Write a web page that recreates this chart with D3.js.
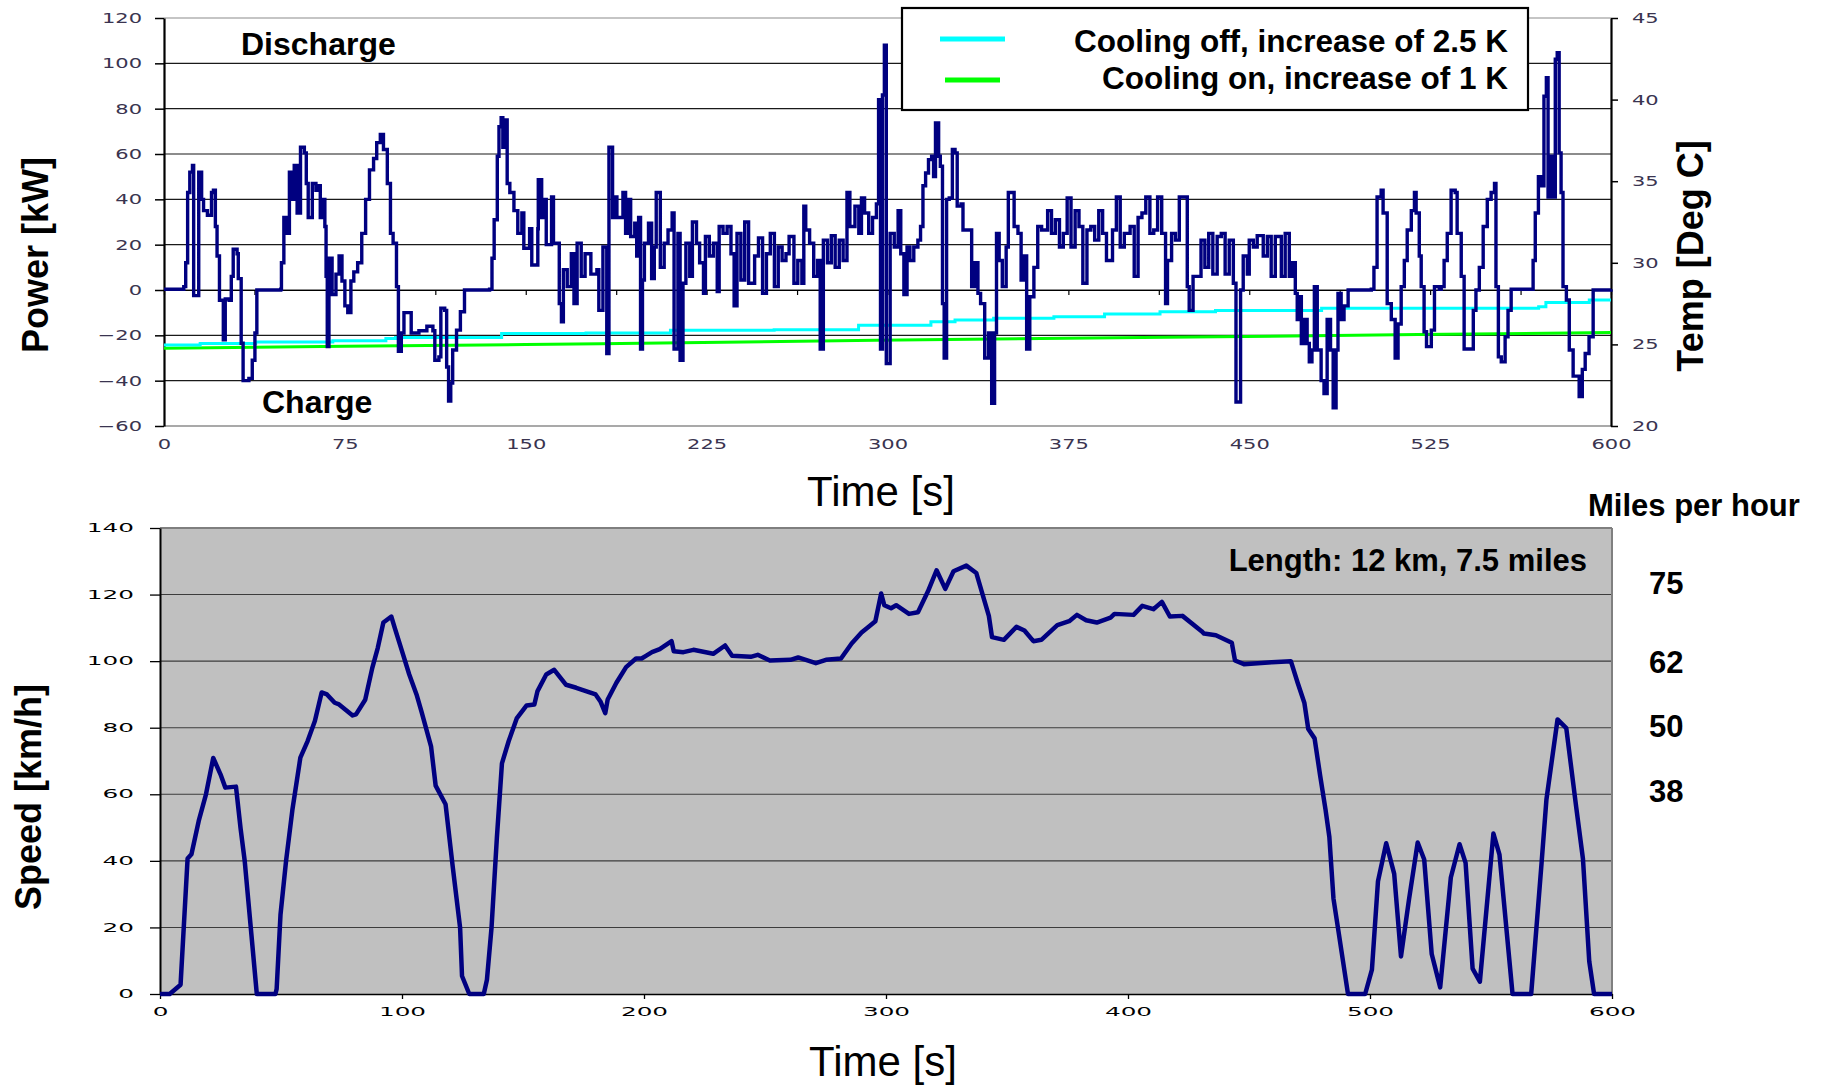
<!DOCTYPE html>
<html><head><meta charset="utf-8">
<script src="https://cdn.jsdelivr.net/npm/d3@7"></script>
<style>
body{margin:0;background:#fff;}
svg text{font-family:"Liberation Sans",Arial,Helvetica,sans-serif;}
</style></head><body>
<svg id="c" width="1825" height="1086"></svg>
<script>
// ---------- data ----------
const powerPoints = [[0,0.3],[8.2,1.5],[9,12],[9.8,43],[10.7,52],[11.8,55],[12.3,-2.5],[14,-2.5],[14.4,52],[15.6,40],[16.4,35],[18,33],[19.7,43],[20.5,44],[21.3,28],[22,15],[23,-4.5],[24.6,-22],[25.4,-4],[27,-4.5],[27.9,6],[28.7,18],[30.3,16],[30.8,5],[32,-23.5],[32.8,-40],[35.2,-39],[36.6,-31],[37.7,-19],[38.5,0],[48.4,0.3],[48.7,12],[49.7,32],[50.8,25],[52,52],[53.3,40],[54,55],[55.2,34],[56.6,63],[58.2,60.5],[59,47],[59.8,32],[61.5,47],[63,44],[64,46],[64.8,32],[66,40],[66.7,28],[67.2,6],[67.7,-25],[68.4,14],[69.7,-2],[71.3,7],[72.6,15],[73.8,4],[75,-7],[76.2,-10],[77.5,4],[78.7,8],[80.3,12],[82,25],[83.6,40],[85.2,53],[86.9,58],[88.2,65],[89.7,68.6],[91,62],[92.6,47],[93.9,25],[95,20.6],[96.4,1.5],[97.2,-27],[98.4,-19],[99.5,-10],[101.6,-10],[102.5,-19],[105.7,-18],[109,-16],[111.5,-18],[112.3,-31],[114,-29.5],[114.8,-8],[116.4,-9],[117.2,-34],[118,-49],[118.9,-41],[119.7,-26.5],[121.3,-17.7],[122.9,-9.6],[124.6,0],[135,0.3],[136,14],[136.9,31],[138.2,59],[138.9,72],[139.8,76],[140.5,63],[141.5,75],[142.3,47],[143.4,43],[145.1,35],[146.7,25],[148.4,34],[149.2,18.4],[151.6,27],[152.5,11],[155,27],[155.2,48.7],[156.6,32],[157.4,40],[158.5,20],[160.7,41],[161.5,20.6],[163.9,-6],[164.8,-14],[165.6,9],[167.2,1.5],[168.9,16],[170,-6],[171.3,20.6],[173,6],[174.6,16],[177,7],[179.5,9],[180.3,-9],[182,19],[183.6,-28],[184.5,63],[186,32],[187.3,41],[187.8,32],[190.3,43],[191.4,25],[192.7,40],[193.5,23.6],[195.2,29.5],[196,15],[196.8,32],[197.6,-26],[198.4,4.4],[199.2,20.6],[200.9,29.5],[202.2,5],[203.3,19],[204.1,43],[205.8,10],[207.4,20.6],[209,26.5],[210.7,34],[211.5,-26],[213.1,25],[214,-31],[215.2,3],[216.4,20.6],[218,6],[219.1,30],[220.8,20.6],[222.1,12],[223.7,-1.5],[224.5,23.6],[226.1,15],[227.8,20.6],[229.4,-0.7],[230.2,28],[231.8,25],[233.5,28],[235.1,16],[236.4,-7],[237.6,25],[239.2,4.4],[240.8,30],[242.4,3],[244.9,15],[246.5,23],[248.2,-1.5],[249.8,16],[251.4,25],[253.1,1.5],[254.7,19],[256.3,13],[257.9,16],[259.2,23.6],[261.2,3],[262.8,13],[264.5,3],[265.3,37],[266.1,26.5],[267.7,20.6],[269.4,6],[271,13],[272.1,-26],[273.4,22],[275.1,12],[276.7,24],[278.3,10],[280,22],[281.6,13],[283.2,43],[284.4,28],[286.5,37],[288.1,25],[289.2,40.6],[290.5,34],[292.2,25],[293.8,32],[295.4,38],[296.3,84],[297.1,-26],[297.9,86],[298.7,108],[299.5,-32.5],[300.6,-32.5],[301.1,25],[302.8,19],[304.4,35],[305.5,16],[306.8,-2],[308.1,19],[309.3,13],[310.9,19],[312.6,22],[313.7,28],[314.7,46],[315.8,51.6],[317,57.5],[318.3,59],[319.1,50],[319.9,73.7],[321.2,59],[321.9,54.6],[322.8,-6],[323.5,-30],[324.5,40],[325.6,40.6],[326.9,62],[328,60.5],[328.9,37],[330.5,38],[331.3,26.5],[333.8,26.5],[334.9,1.5],[336.2,12],[337.5,-1.5],[338.6,-6],[340.3,-30],[341.9,-19],[343.2,-50],[344.4,-19],[345.2,25],[346.3,13],[347.6,1.5],[349.2,19],[350.1,43],[351.7,43],[352.5,28],[354.1,25],[355.4,4.4],[356.6,15],[357.7,-26],[359,-3],[360.7,10],[362.3,28],[363.9,26.5],[366.4,35],[368,25],[369.6,31],[371.3,19],[372.9,25],[374.5,40.6],[376.1,19],[377.8,35],[379.4,28],[381,3],[382.7,26.5],[384.3,28],[385.9,22],[387.6,35],[389.2,25],[390.8,13],[393.3,26.5],[394.9,41],[396.5,19],[398.2,25],[400.6,28],[402.3,6],[403.9,32],[405.5,34],[407.1,41],[408.8,25],[410.4,26.5],[412,41],[413.7,25],[415.3,-6],[416.1,13],[417.8,25],[419.4,22],[421,41],[422.7,41],[424.3,1.5],[425.1,-9],[426.7,6],[428.3,6],[430,22],[431.6,10],[433.2,25],[434.9,7],[436.7,23.6],[438.4,25],[440,7],[441.7,22],[443.4,3],[444.5,-49.4],[445.9,-49.4],[446.4,0],[447.5,15],[449.2,7],[450,22],[451.7,19],[453.3,24],[455.8,15],[457.5,23.6],[459.1,6],[460.8,23.6],[463.3,6],[464.9,25],[466.6,6],[467.7,12],[469.1,-1.5],[469.9,-13],[470.7,-3],[471.6,-23.6],[472.7,-13],[474,-23.6],[474.9,-31.7],[476,-26.5],[477,1.5],[478.2,-26.5],[479.8,-40],[481,-45.7],[482.3,-13],[483.7,-26.5],[484.8,-52],[486,-26.5],[486.8,-1.5],[488.1,-13],[489.3,-7],[491,0],[500.6,0.3],[501.7,10],[503,41],[504.7,44],[505.5,34],[507.2,-6],[508.9,-13],[510.5,-30],[511.7,-15],[513,1.5],[514.3,13],[515.5,26.5],[517.2,35],[518.5,43],[519.2,34],[520.5,15],[521.3,1.5],[522.5,-18.4],[523.5,-25],[525.5,-17.7],[526.8,1.5],[528.8,0.3],[529.6,1.5],[530.8,13],[532.1,25],[533.7,44],[535.4,43],[536.2,25],[537.9,6],[539.1,-26],[541.2,-26],[542.9,-9],[544,0],[545.4,10],[547,28],[548.7,40],[550.3,43],[551.7,47],[552.3,1.5],[553.3,-29.5],[554.5,-31.7],[556.1,-20.6],[557.3,-9],[558.6,0.3],[566.9,0.3],[567.7,13],[568.6,34],[569.9,50],[571.1,46],[572.2,85.5],[573.2,93.7],[573.9,41],[575.2,59],[576,41],[576.9,101.8],[577.7,104.7],[578.5,60.5],[579.3,43],[580.1,1.5],[581.5,-4.4],[582.7,-26.5],[584.3,-38],[585.5,-38],[586.8,-47],[588.1,-35],[589.3,-28],[590.9,-20.6],[592.6,0],[600,0.3]];

const speedPoints = [[0,0],[4,0],[8.5,2.8],[11.4,40.7],[13,42],[16,52],[19,60],[22,70.9],[25,66],[27,62],[31.4,62.3],[33.3,49.7],[35,40],[40,0],[47.7,0],[48.2,1.5],[49.8,23.9],[52.1,40],[54.7,55.3],[58,71],[61,76],[64,82],[66.8,90.6],[69,90],[72.2,87.5],[74,87],[79.6,83.7],[81,84],[84.8,88.4],[87.7,97.9],[90,104],[92.3,111.6],[95.6,113.4],[97,110],[100,103],[103,96],[106,90],[108,85],[112,74.4],[113.9,62.6],[118,57],[121,38],[124,20],[124.8,5.4],[127.8,0],[133.8,0],[135.1,4.3],[137,20],[139.2,46.9],[141.3,69.3],[144.1,76],[147.4,82.8],[151.5,86.7],[154.7,87],[156,91],[159.6,96],[162.9,97.4],[167.8,92.9],[172,92],[180,90],[182,87.9],[184,84.4],[185,88.5],[188.6,93.5],[192.6,98.2],[196.7,100.8],[199,100.8],[200.8,101.6],[203.3,102.7],[206.5,103.6],[211.4,106],[212.3,103],[216.3,102.7],[220.4,103.4],[228.6,102.2],[233.5,104.7],[236.4,101.6],[244.1,101.3],[247,101.9],[252,100.2],[260.5,100.4],[263.7,101.1],[271,99.4],[275.2,100.4],[281.4,100.8],[285.8,105.3],[289.9,108.6],[293.1,110.5],[295.6,112],[298,120.3],[299.3,116.8],[302.1,115.9],[304.2,116.8],[309.5,114.2],[313.2,114.7],[317.3,120.9],[320.9,127.3],[324.5,121.7],[327.9,127],[333.2,128.7],[337.3,126.5],[342.5,113.6],[343.8,107.2],[348.7,106.4],[353.9,110.3],[357.2,109.2],[360.9,106],[364.2,106.4],[370.8,110.8],[375.7,112],[378.9,113.9],[382.7,112.3],[387.1,111.6],[392.8,113.1],[394.4,114.2],[402.3,113.9],[405.9,116.6],[410.5,115.6],[414,117.8],[417.3,113.4],[422.5,113.6],[430.4,109],[431.4,108.3],[436.3,107.8],[442.9,105.5],[444.2,100.2],[447.9,99.1],[459.4,99.7],[467.3,100],[470.1,93.5],[472.9,87.4],[474.5,79.6],[477.1,76.8],[479.4,65.6],[481.6,55.5],[483.2,47.2],[484.9,28.7],[487,18.7],[490.9,0],[498,0],[500.8,7.3],[503.3,33.9],[506.7,45.3],[510,36.1],[512.8,11.3],[516.1,28.3],[519.7,45.5],[522.4,40.4],[525.5,12],[529,2],[533.4,35],[537,45],[539.5,39.4],[542.4,7.6],[545.4,3.7],[551,48.2],[553.5,41.9],[558.9,0],[566.6,0],[570.9,39.4],[572.9,58.4],[577.5,82.5],[581.1,79.9],[585.2,56.2],[588,40.6],[590.6,9.8],[592.6,0],[600,0]];

const tempCoolingOff = [[0,24.96],[15,25.05],[38,25.15],[70,25.22],[92,25.36],[96,25.42],[140,25.67],[175,25.7],[210,25.87],[253,25.9],[288,26.18],[318,26.39],[328,26.49],[344,26.6],[369,26.7],[390,26.86],[413,27.0],[436,27.08],[480,27.21],[570,27.31],[573,27.57],[591,27.72],[600,27.72]];
const tempCoolingOn = [[0,24.76],[75,24.88],[150,24.99],[181,25.04],[295,25.25],[437,25.47],[520,25.6],[600,25.73]];

const powerTicks = [-60,-40,-20,0,20,40,60,80,100,120];
const tempTicks = [20,25,30,35,40,45];
const topTimeTicks = [0,75,150,225,300,375,450,525,600];
const bottomTimeTicks = [0,100,200,300,400,500,600];
const speedTicks = [0,20,40,60,80,100,120,140];
const mphLabels = [75,62,50,38];
const legendLabels = ["Cooling off, increase of 2.5 K","Cooling on, increase of 1 K"];
const legendColors = ["#00ffff","#00ff00"];
const KMH_PER_MPH = 1.609344;

// ---------- drawing ----------
const svg = d3.select("#c");
svg.append("rect").attr("width",1825).attr("height",1086).attr("fill","#fff");

// ===== Top chart =====
const x1 = d3.scaleLinear([0,600],[164,1611]);
const yP = d3.scaleLinear([-60,120],[426,18]);
const yT = d3.scaleLinear([20,45],[426,18]);
const gTop = svg.append("g");

gTop.append("g").selectAll("line").data(powerTicks).join("line")
  .attr("x1",164).attr("x2",1611)
  .attr("y1",d=>yP(d)).attr("y2",d=>yP(d))
  .attr("stroke",d=> (d===120||d===-60) ? "#8c8c8c" : "#1a1a1a")
  .attr("stroke-width",d=> d===-60 ? 1.5 : 1.1);

const zeroAx = gTop.append("g").attr("transform",`translate(0,${yP(0)})`)
  .call(d3.axisBottom(x1).tickValues(d3.range(0,601,37.5)).tickSize(5).tickSizeOuter(0).tickFormat(""));
zeroAx.select(".domain").attr("stroke","#000").attr("stroke-width",1.2);
zeroAx.selectAll(".tick line").attr("stroke","#000").attr("stroke-width",1.2);

const TOP_SX = 1.5;
const la = gTop.append("g").attr("transform","translate(164,0)")
  .call(d3.axisLeft(yP).tickValues(powerTicks).tickSize(9).tickSizeOuter(0));
la.select(".domain").attr("stroke","#000").attr("stroke-width",2.2);
la.selectAll(".tick line").attr("stroke","#000").attr("stroke-width",1.5);
la.selectAll(".tick text").attr("x",-22/TOP_SX).attr("transform",`scale(${TOP_SX},1)`)
  .style("font-family","'DejaVu Sans',Verdana,sans-serif").style("font-size","14px").attr("fill","#3a3450");

const ra = gTop.append("g").attr("transform","translate(1611,0)")
  .call(d3.axisRight(yT).tickValues(tempTicks).tickSize(7).tickSizeOuter(0));
ra.select(".domain").attr("stroke","#000").attr("stroke-width",2.2);
ra.selectAll(".tick line").attr("stroke","#000").attr("stroke-width",1.5);
ra.selectAll(".tick text").attr("x",21/TOP_SX).attr("transform",`scale(${TOP_SX},1)`)
  .style("font-family","'DejaVu Sans',Verdana,sans-serif").style("font-size","14px").attr("fill","#3a3450");

const ba = gTop.append("g").attr("transform","translate(0,426)")
  .call(d3.axisBottom(x1).tickValues(topTimeTicks).tickSize(0).tickPadding(13));
ba.select(".domain").remove();
ba.selectAll(".tick text").attr("transform",`scale(${TOP_SX},1)`)
  .style("font-family","'DejaVu Sans',Verdana,sans-serif").style("font-size","14px").attr("fill","#3a3450");

const tLineOn = d3.line().x(d=>x1(d[0])).y(d=>yT(d[1]));
const tLineOff = d3.line().x(d=>x1(d[0])).y(d=>yT(d[1])).curve(d3.curveStepAfter);
gTop.append("path").datum(tempCoolingOn).attr("d",tLineOn).attr("fill","none")
  .attr("stroke",legendColors[1]).attr("stroke-width",3);
gTop.append("path").datum(tempCoolingOff).attr("d",tLineOff).attr("fill","none")
  .attr("stroke",legendColors[0]).attr("stroke-width",3);

const pLine = d3.line().x(d=>x1(d[0])).y(d=>yP(d[1])).curve(d3.curveStepAfter);
gTop.append("path").datum(powerPoints).attr("d",pLine).attr("fill","none")
  .attr("stroke","#000080").attr("stroke-width",3.4).attr("stroke-linejoin","miter");

gTop.append("text").attr("x",241).attr("y",55).text("Discharge")
  .attr("font-weight","bold").attr("font-size",32).attr("fill","#000");
gTop.append("text").attr("x",262).attr("y",413).text("Charge")
  .attr("font-weight","bold").attr("font-size",32).attr("fill","#000");

gTop.append("text").attr("transform","translate(48,255) rotate(-90)").attr("text-anchor","middle")
  .text("Power [kW]").attr("font-weight","bold").attr("font-size",36);
gTop.append("text").attr("transform","translate(1703,256) rotate(-90)").attr("text-anchor","middle")
  .text("Temp [Deg C]").attr("font-weight","bold").attr("font-size",36);
gTop.append("text").attr("x",881).attr("y",506).attr("text-anchor","middle")
  .text("Time [s]").attr("font-size",42);

const lg = gTop.append("g");
lg.append("rect").attr("x",902).attr("y",8).attr("width",626).attr("height",102)
  .attr("fill","#fff").attr("stroke","#000").attr("stroke-width",2.2);
const lgY = [39,80], lgX = [[940,1005],[945,1000]], lgBase = [52,89];
legendLabels.forEach((lab,i)=>{
  lg.append("line").attr("x1",lgX[i][0]).attr("x2",lgX[i][1]).attr("y1",lgY[i]).attr("y2",lgY[i])
    .attr("stroke",legendColors[i]).attr("stroke-width",5);
  lg.append("text").attr("x",1508).attr("y",lgBase[i]).attr("text-anchor","end")
    .text(lab).attr("font-weight","bold").attr("font-size",31.5);
});

// ===== Bottom chart =====
const x2 = d3.scaleLinear([0,600],[160,1612]);
const yS = d3.scaleLinear([0,140],[994,528]);
const gBot = svg.append("g");
gBot.append("rect").attr("x",160).attr("y",yS(140)).attr("width",1612-160).attr("height",yS(0)-yS(140))
  .attr("fill","#c0c0c0");
gBot.append("g").selectAll("line").data(speedTicks.filter(d=>d>0)).join("line")
  .attr("x1",160).attr("x2",1612).attr("y1",d=>yS(d)).attr("y2",d=>yS(d))
  .attr("stroke",d=> d===140 ? "#7f7f7f" : "#3c3c3c").attr("stroke-width",d=> d===140?2:1.1);
gBot.append("line").attr("x1",1612).attr("x2",1612).attr("y1",yS(140)).attr("y2",yS(0))
  .attr("stroke","#808080").attr("stroke-width",2);

const BOT_SX = 2.15;
const bl = gBot.append("g").attr("transform","translate(160,0)")
  .call(d3.axisLeft(yS).tickValues(speedTicks).tickSize(10).tickSizeOuter(0));
bl.select(".domain").attr("stroke","#000").attr("stroke-width",2);
bl.selectAll(".tick line").attr("stroke","#000").attr("stroke-width",1.3);
bl.selectAll(".tick text").attr("x",-26/BOT_SX).attr("transform",`scale(${BOT_SX},1)`)
  .style("font-family","'DejaVu Sans',Verdana,sans-serif").style("font-size","11.5px").attr("fill","#000");

const bb = gBot.append("g").attr("transform",`translate(0,${yS(0)})`)
  .call(d3.axisBottom(x2).tickValues(bottomTimeTicks).tickSize(5).tickSizeOuter(0).tickPadding(9));
bb.select(".domain").attr("stroke","#000").attr("stroke-width",1.5);
bb.selectAll(".tick line").attr("stroke","#000").attr("stroke-width",1.3);
bb.selectAll(".tick text").attr("transform",`scale(${BOT_SX},1)`)
  .style("font-family","'DejaVu Sans',Verdana,sans-serif").style("font-size","11.5px").attr("fill","#000");

const sLine = d3.line().x(d=>x2(d[0])).y(d=>yS(d[1]));
gBot.append("path").datum(speedPoints).attr("d",sLine).attr("fill","none")
  .attr("stroke","#000080").attr("stroke-width",4.5).attr("stroke-linejoin","round");

gBot.append("text").attr("x",1587).attr("y",571).attr("text-anchor","end")
  .text("Length: 12 km, 7.5 miles").attr("font-weight","bold").attr("font-size",31);
gBot.append("text").attr("x",1588).attr("y",516)
  .text("Miles per hour").attr("font-weight","bold").attr("font-size",31);
gBot.append("g").selectAll("text").data(mphLabels).join("text")
  .attr("x",1649).attr("y",d=>yS(d*KMH_PER_MPH)).attr("dy",d=> d===75 ? "0.06em" : "0.36em")
  .text(d=>d).attr("font-weight","bold").attr("font-size",31);

gBot.append("text").attr("transform","translate(41,797) rotate(-90)").attr("text-anchor","middle")
  .text("Speed [km/h]").attr("font-weight","bold").attr("font-size",36);
gBot.append("text").attr("x",883).attr("y",1076).attr("text-anchor","middle")
  .text("Time [s]").attr("font-size",42);
</script>
</body></html>
